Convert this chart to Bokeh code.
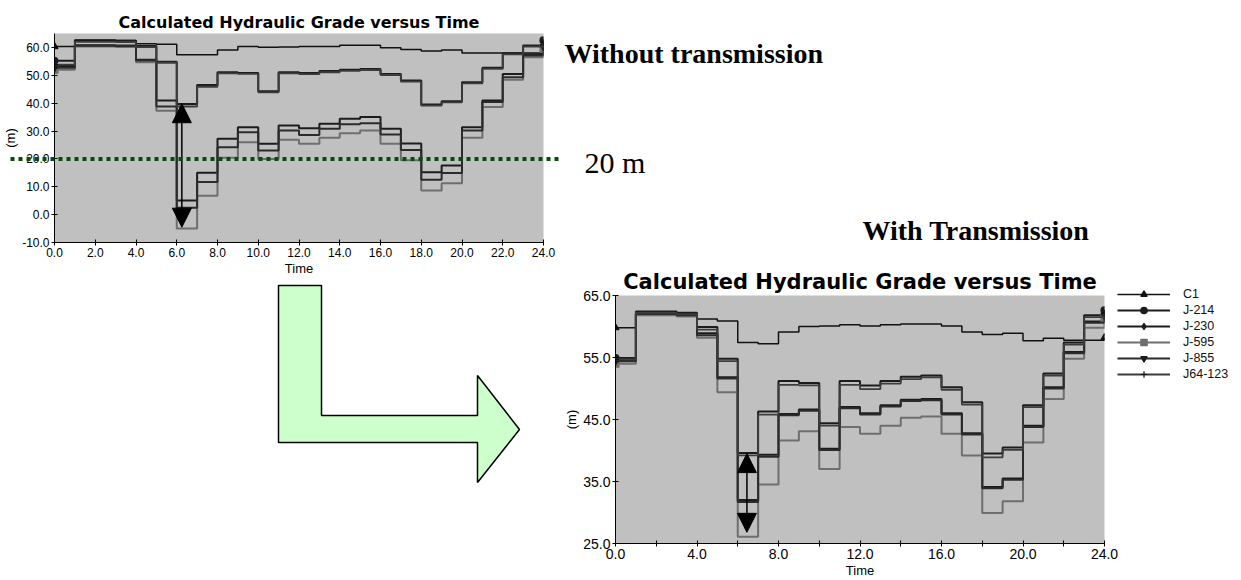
import math
from bokeh.plotting import figure
from bokeh.models import (Range1d, FixedTicker, PrintfTickFormatter, Arrow, NormalHead,
                          Legend, LegendItem, GridBox, Column)
from bokeh.embed import file_html
from bokeh.resources import INLINE
from bokeh.core.properties import value

# ---------------- data ----------------
hours = list(range(25))
series_names = ["C1", "J-214", "J-230", "J-595", "J-855", "J64-123"]

# Without transmission (top-left chart)
wo_c1 = [60.3, 62.6, 62.6, 62.5, 61.3, 61.1, 57.4, 57.4, 59.1, 60.3, 60.1, 60.2, 60.3, 60.3,
         60.8, 60.8, 59.9, 59.3, 58.7, 59.1, 58.0, 58.0, 58.0, 58.0, 58.3]
wo_j214 = [55.2, 62.6, 62.6, 62.4, 60.5, 54.9, 39.7, 46.5, 51.1, 50.8, 44.3, 51.1, 50.8, 51.5,
           52.0, 52.3, 50.5, 48.1, 39.5, 40.7, 47.5, 52.7, 57.9, 60.7, 62.5]
wo_j64 = [53.8, 62.0, 62.0, 61.9, 60.1, 54.5, 38.8, 45.9, 50.7, 50.5, 43.9, 50.7, 50.4, 51.1,
          51.6, 51.9, 50.1, 47.7, 39.1, 40.3, 47.1, 52.3, 57.5, 60.3, 61.8]
wo_j230 = [53.3, 60.8, 60.8, 60.7, 55.6, 41.0, 5.1, 15.0, 27.2, 31.4, 25.4, 32.0, 31.0, 32.6,
           34.4, 35.0, 30.8, 25.5, 15.2, 17.6, 31.4, 41.0, 50.5, 57.5, 60.8]
wo_j855 = [52.7, 60.6, 60.6, 60.5, 55.3, 38.8, 2.5, 11.7, 24.2, 29.6, 23.0, 30.2, 28.6, 30.8,
           32.4, 32.8, 28.8, 23.2, 12.5, 14.9, 30.2, 40.4, 49.3, 57.1, 60.3]
wo_j595 = [52.0, 60.3, 60.3, 60.2, 54.7, 37.3, -5.0, 6.8, 20.4, 26.0, 20.0, 26.9, 25.4, 27.6,
           29.2, 30.2, 25.4, 19.5, 8.7, 11.3, 27.6, 38.6, 48.4, 56.5, 59.5]

# With transmission (bottom-right chart)
wt_c1 = [59.8, 62.2, 62.2, 62.1, 61.2, 60.9, 57.4, 57.2, 59.1, 60.0, 60.1, 60.3, 60.1, 60.3,
         60.4, 60.4, 60.1, 59.1, 58.7, 58.9, 57.7, 58.1, 57.8, 57.8, 58.2]
wt_j214 = [54.9, 62.4, 62.4, 62.2, 59.9, 54.8, 39.6, 46.3, 51.2, 50.9, 44.4, 51.2, 50.5, 51.2,
           51.9, 52.1, 50.2, 47.8, 39.5, 40.5, 47.3, 52.4, 57.4, 61.8, 62.6]
wt_j64 = [54.7, 62.2, 62.2, 62.0, 59.5, 54.4, 39.2, 45.8, 50.6, 50.5, 44.0, 50.6, 49.9, 50.8,
          51.5, 51.8, 49.8, 47.4, 38.9, 40.1, 47.0, 52.1, 57.1, 61.5, 62.2]
wt_j230 = [54.6, 62.1, 62.1, 61.9, 58.9, 51.8, 32.0, 39.3, 45.9, 46.6, 40.3, 47.0, 46.0, 47.3,
           48.2, 48.3, 46.0, 42.8, 34.1, 35.5, 44.0, 50.2, 55.9, 60.8, 62.0]
wt_j855 = [54.4, 62.0, 62.0, 61.8, 58.6, 51.6, 31.7, 39.0, 45.7, 46.4, 40.1, 46.8, 45.8, 47.1,
           48.0, 48.1, 45.8, 42.6, 33.9, 35.3, 43.8, 50.0, 55.7, 60.6, 61.8]
wt_j595 = [54.0, 61.8, 61.8, 61.6, 58.2, 49.4, 26.1, 34.5, 41.6, 43.1, 37.0, 43.8, 42.7, 44.0,
           45.3, 45.5, 42.7, 39.2, 29.9, 31.8, 41.3, 48.3, 54.8, 59.8, 61.3]

wo_data = {"C1": wo_c1, "J-214": wo_j214, "J-230": wo_j230, "J-595": wo_j595,
           "J-855": wo_j855, "J64-123": wo_j64}
wt_data = {"C1": wt_c1, "J-214": wt_j214, "J-230": wt_j230, "J-595": wt_j595,
           "J-855": wt_j855, "J64-123": wt_j64}

# tick values
wo_x_ticks = [0, 2, 4, 6, 8, 10, 12, 14, 16, 18, 20, 22, 24]
wo_y_ticks = [-10, 0, 10, 20, 30, 40, 50, 60]
wt_x_ticks = [0, 4, 8, 12, 16, 20, 24]
wt_x_minor = [2, 6, 10, 14, 18, 22]
wt_y_ticks = [25, 35, 45, 55, 65]

# annotation values
wo_arrow = dict(x=6.25, y_low=-4.5, y_high=39.8)
wt_arrow = dict(x=6.45, y_low=26.8, y_high=39.5)
threshold = 20  # m

# ---------------- styles ----------------
W, H = 1241, 580
styles = {
    "C1":      dict(color="#111111", width=1.5, marker="triangle", mcolor="#111111"),
    "J-214":   dict(color="#1c1c1c", width=2.0, marker="circle", mcolor="#1c1c1c"),
    "J-230":   dict(color="#1c1c1c", width=2.0, marker="diamond", mcolor="#1c1c1c"),
    "J-595":   dict(color="#6e6e6e", width=2.0, marker="square", mcolor="#6e6e6e"),
    "J-855":   dict(color="#2b2b2b", width=2.0, marker="inverted_triangle", mcolor="#1c1c1c"),
    "J64-123": dict(color="#3c3c3c", width=1.8, marker="cross", mcolor="#111111"),
}

C1_BOX = dict(left=54, right=543, top=33, bottom=242)
C2_BOX = dict(left=615, right=1104, top=295, bottom=543)


def make_chart(data, yr, box, xt, xminor, yt, tick_fs, title_fs, title_standoff, arrow):
    p = figure(width=W, height=H, output_backend="svg", toolbar_location=None,
               x_range=Range1d(0, 24), y_range=Range1d(*yr),
               min_border_left=box["left"], min_border_right=W - box["right"],
               min_border_top=box["top"], min_border_bottom=H - box["bottom"],
               background_fill_color="#c0c0c0", border_fill_alpha=0,
               outline_line_color=None,
               title="Calculated Hydraulic Grade versus Time")
    p.grid.visible = False
    p.title.align = "center"
    p.title.text_font = "DejaVu Sans"
    p.title.text_font_style = "bold"
    p.title.text_font_size = title_fs
    p.title.text_color = "#000000"
    p.title.standoff = title_standoff

    p.xaxis.ticker = FixedTicker(ticks=xt, minor_ticks=xminor)
    p.yaxis.ticker = FixedTicker(ticks=yt)
    p.xaxis.axis_label = "Time"
    p.yaxis.axis_label = "(m)"
    for ax in p.axis:
        ax.formatter = PrintfTickFormatter(format="%.1f")
        ax.axis_line_color = "black"
        ax.major_tick_line_color = "black"
        ax.minor_tick_line_color = "black"
        ax.major_tick_in = 3
        ax.major_tick_out = 3
        ax.minor_tick_in = 3
        ax.minor_tick_out = 3
        ax.major_label_text_font = "Liberation Sans"
        ax.major_label_text_font_size = tick_fs
        ax.major_label_text_color = "black"
        ax.axis_label_text_font = "Liberation Sans"
        ax.axis_label_text_font_size = "13px"
        ax.axis_label_text_font_style = "normal"
        ax.axis_label_text_color = "black"
        ax.major_label_standoff = 2
        ax.axis_label_standoff = 1
    p.yaxis.minor_tick_line_color = None
    if not xminor:
        p.xaxis.minor_tick_line_color = None

    for name in series_names:
        st = styles[name]
        vals = data[name]
        p.step(hours, vals, mode="after", line_color=st["color"], line_width=st["width"])
        p.scatter([hours[0], hours[-1]], [vals[0], vals[-1]], marker=st["marker"], size=7,
                  fill_color=st["mcolor"], line_color=st["mcolor"], line_width=1.2)

    p.add_layout(Arrow(start=NormalHead(size=19, fill_color="black", line_color="black"),
                       end=NormalHead(size=19, fill_color="black", line_color="black"),
                       x_start=arrow["x"], y_start=arrow["y_low"],
                       x_end=arrow["x"], y_end=arrow["y_high"],
                       line_color="black", line_width=1.5))
    return p


p1 = make_chart(wo_data, (-10, 65), C1_BOX, wo_x_ticks, [], wo_y_ticks,
                "12px", "16px", 4, wo_arrow)
p2 = make_chart(wt_data, (25, 65), C2_BOX, wt_x_ticks, wt_x_minor, wt_y_ticks,
                "14px", "21px", 4, wt_arrow)

# ---------------- decoration overlay (page pixel space) ----------------
pd_ = figure(width=W, height=H, output_backend="svg", toolbar_location=None,
             x_range=Range1d(0, W), y_range=Range1d(H, 0),
             x_axis_location=None, y_axis_location=None,
             min_border=0, background_fill_alpha=0, border_fill_alpha=0,
             outline_line_color=None)
pd_.grid.visible = False

# L-shaped green arrow between the two charts
arrow_xs = [278, 321, 321, 477, 477, 519, 477, 477, 278]
arrow_ys = [285, 285, 415, 415, 375, 429, 482, 442, 442]
pd_.patch(arrow_xs, arrow_ys, fill_color="#ccffcc", line_color="black", line_width=1.5)

# dotted 20 m line across the first chart, placed through chart 1's y mapping
y20 = C1_BOX["top"] + (65 - threshold) / (65 - (-10)) * (C1_BOX["bottom"] - C1_BOX["top"])
pd_.line([10, 558], [y20, y20], line_color="#0b4a0b", line_width=4, line_dash="4 4")

pd_.text(x=[564], y=[53], text=["Without transmission"], text_font=value("Liberation Serif"),
         text_font_style="bold", text_font_size="28px", text_baseline="alphabetic",
         text_color="black")
pd_.text(x=[584], y=[162], text=["20 m"], text_font=value("Liberation Serif"),
         text_font_size="30px", text_baseline="alphabetic", text_color="black")
pd_.text(x=[862], y=[230], text=["With Transmission"], text_font=value("Liberation Serif"),
         text_font_style="bold", text_font_size="28px", text_baseline="alphabetic",
         text_color="black")

# legend of the "with transmission" chart: key-only renderers (no visible points) on the
# page layer, so that the key can sit outside that chart's plot area
nan = float("nan")
legend_items = []
for name in series_names:
    st = styles[name]
    rl = pd_.line(x=[nan], y=[nan], line_color=st["color"], line_width=st["width"])
    rm = pd_.scatter(x=[nan], y=[nan], marker=st["marker"], size=7, fill_color=st["mcolor"],
                     line_color=st["mcolor"], line_width=1.2)
    legend_items.append(LegendItem(label=name, renderers=[rl, rm]))

legend = Legend(items=legend_items, location=(1117, 198), orientation="vertical",
                padding=0, margin=0, spacing=0, glyph_width=53, glyph_height=16,
                label_height=16, label_standoff=13,
                label_text_font="Liberation Sans", label_text_font_size="12.5px",
                label_text_color="#111111",
                background_fill_alpha=0, border_line_color=None)
pd_.add_layout(legend)

layout = GridBox(children=[(Column(p1), 0, 0), (Column(p2), 0, 0), (Column(pd_), 0, 0)])

open("out.html", "w").write(file_html(layout, INLINE))
